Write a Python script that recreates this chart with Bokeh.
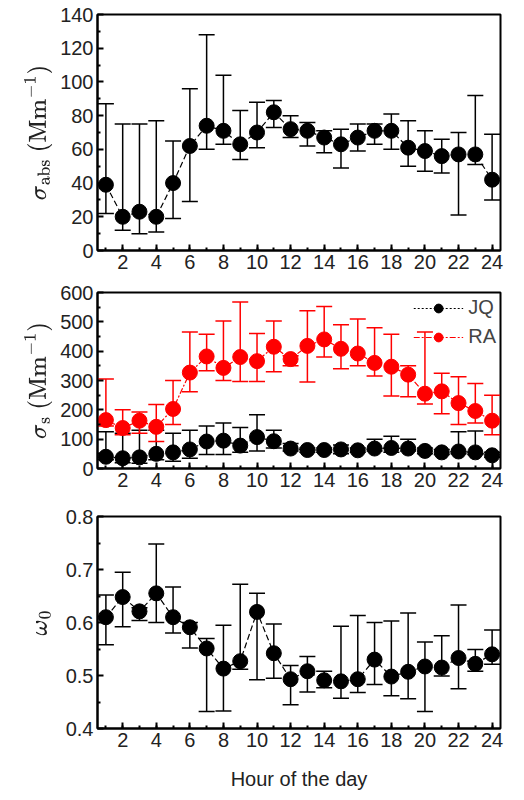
from bokeh.plotting import figure
from bokeh.layouts import column
from bokeh.models import ColumnDataSource, Whisker, TeeHead, FixedTicker, Range1d, Legend, LegendItem
from bokeh.embed import file_html
from bokeh.resources import INLINE

hours = list(range(1, 25))

abs_val = [39, 20, 23, 20, 40, 62, 74, 71, 63, 70, 82, 72, 71, 67, 63, 67, 71, 71, 61, 59, 56, 57, 57, 42]
abs_up = [87, 75, 75, 77, 65, 96, 128, 104, 83, 88, 89, 80, 76, 71, 72, 75, 75, 81, 77, 71, 66, 70, 92, 69]
abs_lo = [22, 12, 10, 11, 19, 29, 60, 63, 54, 61, 73, 67, 62, 58, 49, 59, 63, 60, 50, 47, 46, 21, 51, 30]

ra_val = [165, 138, 163, 142, 203, 327, 382, 343, 380, 366, 415, 373, 418, 440, 408, 392, 360, 347, 320, 255, 263, 223, 196, 163]
ra_up = [305, 200, 193, 218, 300, 465, 458, 503, 568, 460, 503, 384, 538, 552, 490, 510, 480, 458, 350, 465, 325, 313, 290, 250]
ra_lo = [145, 115, 120, 92, 150, 262, 333, 300, 297, 297, 330, 350, 295, 380, 340, 350, 315, 247, 245, 220, 187, 150, 155, 115]

jq_val = [40, 35, 38, 50, 55, 65, 92, 95, 78, 107, 93, 68, 63, 63, 65, 62, 68, 70, 68, 60, 55, 58, 55, 45]
jq_up = [125, 120, 130, 130, 120, 130, 145, 155, 140, 183, 130, 85, 70, 70, 80, 70, 100, 110, 100, 70, 65, 125, 128, 55]
jq_lo = [30, 20, 18, 30, 25, 35, 48, 48, 55, 60, 70, 60, 55, 55, 50, 55, 60, 55, 60, 50, 48, 50, 48, 38]

w_val = [.610, .648, .621, .655, .610, .591, .551, .513, .527, .620, .542, .493, .508, .491, .489, .493, .530, .498, .507, .517, .515, .533, .522, .540]
w_up = [.652, .695, .628, .748, .667, .600, .570, .595, .672, .655, .597, .519, .536, .508, .593, .613, .600, .603, .618, .563, .575, .633, .549, .586]
w_lo = [.558, .592, .604, .600, .580, .552, .432, .433, .512, .492, .495, .445, .469, .477, .457, .468, .483, .462, .456, .432, .499, .475, .508, .521]

FONT = "Liberation Sans"


def make_fig(height, ymin, ymax, yticks, ylabel, top, bottom, xlabel=None):
    p = figure(width=508, height=height, output_backend="svg", toolbar_location=None,
               x_range=Range1d(0.5, 24.5), y_range=Range1d(ymin, ymax),
               min_border_left=97, min_border_right=8, min_border_top=top, min_border_bottom=bottom)
    p.grid.visible = False
    p.outline_line_color = "black"
    p.outline_line_width = 2
    p.xaxis.ticker = FixedTicker(ticks=list(range(2, 25, 2)), minor_ticks=hours)
    p.yaxis.ticker = FixedTicker(ticks=yticks, minor_ticks=[(a + b) / 2 for a, b in zip(yticks[:-1], yticks[1:])])
    for ax in p.xaxis + p.yaxis:
        ax.major_tick_in = 6
        ax.major_tick_out = 0
        ax.minor_tick_in = 3
        ax.minor_tick_out = 0
        ax.major_tick_line_width = 2
        ax.minor_tick_line_width = 2
        ax.axis_line_width = 2
        ax.major_label_text_font = FONT
        ax.major_label_text_font_size = "20px"
        ax.major_label_text_color = "#222222"
        ax.axis_label_text_font = FONT
        ax.axis_label_text_font_size = "20px"
        ax.axis_label_text_font_style = "normal"
        ax.axis_label_text_color = "#222222"
    p.xaxis.major_label_standoff = 4
    p.yaxis.major_label_standoff = 4
    p.yaxis.axis_label = ylabel
    if xlabel:
        p.xaxis.axis_label = xlabel
        p.xaxis.axis_label_standoff = 18
    return p


def series(p, y, up, lo, color, dash):
    src = ColumnDataSource(dict(x=hours, y=y, up=up, lo=lo))
    w = Whisker(source=src, base="x", upper="up", lower="lo", line_color=color, line_width=1.5,
                upper_head=TeeHead(size=16, line_color=color, line_width=1.5),
                lower_head=TeeHead(size=16, line_color=color, line_width=1.5))
    p.add_layout(w)
    l = p.line("x", "y", source=src, line_color=color, line_dash=dash, line_width=1.2)
    c = p.scatter("x", "y", source=src, size=15, color=color)
    return l, c


p1 = make_fig(280, 0, 140, list(range(0, 141, 20)), r"$$\sigma_{\mathrm{abs}}\ \mathrm{(Mm^{-1})}$$", 14, 30)
series(p1, abs_val, abs_up, abs_lo, "black", "6 3")

p2 = make_fig(222, 0, 600, list(range(0, 601, 100)), r"$$\sigma_{\mathrm{s}}\ \mathrm{(Mm^{-1})}$$", 12, 34)
l1, c1 = series(p2, jq_val, jq_up, jq_lo, "black", "2 2")
l2, c2 = series(p2, ra_val, ra_up, ra_lo, "red", "6 2 2 2")
leg = Legend(items=[LegendItem(label="JQ", renderers=[l1, c1]), LegendItem(label="RA", renderers=[l2, c2])],
             location="top_right", border_line_alpha=0, background_fill_alpha=0,
             label_text_font=FONT, label_text_font_size="20px", glyph_width=50, glyph_height=22,
             spacing=6, padding=0, margin=4)
p2.add_layout(leg)

p3 = make_fig(290, 0.4, 0.8, [0.4, 0.5, 0.6, 0.7, 0.8], r"$$\omega_{0}$$", 14, 48, "Hour of the day")
series(p3, w_val, w_up, w_lo, "black", "6 3")

layout = column(p1, p2, p3, spacing=0)
open("out.html", "w").write(file_html(layout, INLINE))
